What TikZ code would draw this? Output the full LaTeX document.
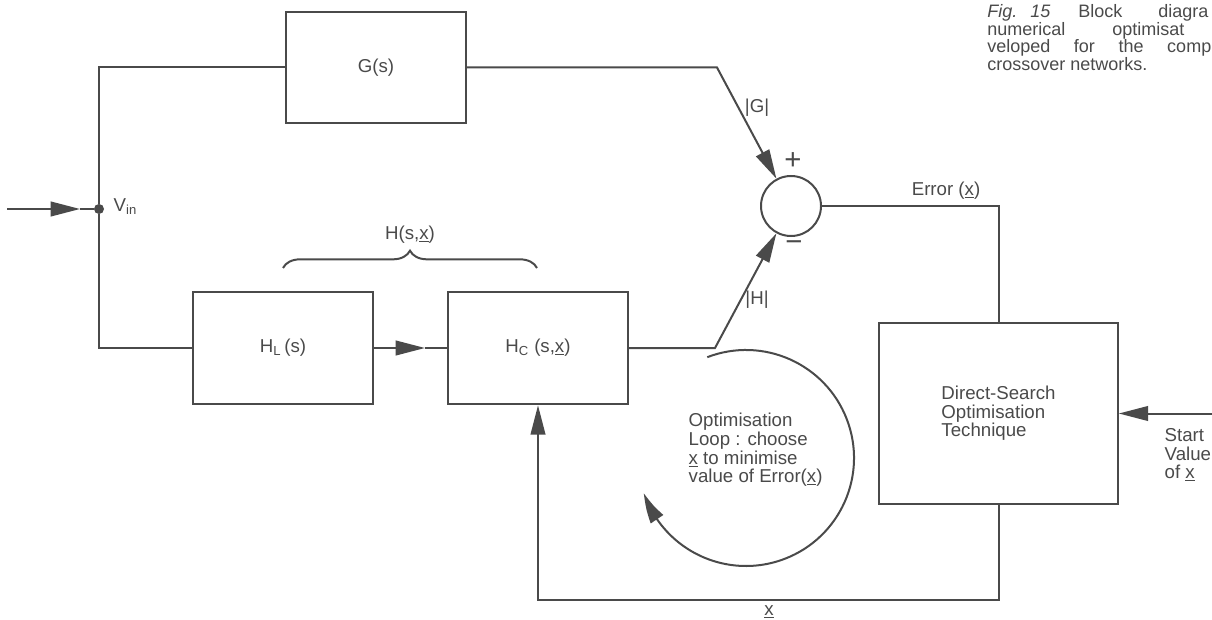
\documentclass[tikz,border=0pt]{standalone}
\usepackage{fontspec}
\setmainfont{Liberation Sans}
\usetikzlibrary{arrows.meta,bending,decorations.pathreplacing}
\definecolor{ink}{HTML}{4A4A4A}
\newcommand{\ux}{\underline{x}}
\begin{document}
\begin{tikzpicture}[x=0.75pt,y=-0.75pt,
  every node/.style={text=ink, font=\fontsize{14}{14}\selectfont},
  wire/.style={draw=ink, line width=1.5pt},
  tip/.style={-{Triangle[length=22pt,width=11pt]}},
  bendtip/.style={-{Triangle[length=22pt,width=11pt,bend]}},
  blockbox/.style={draw=ink, line width=1.5pt, minimum width=135pt, minimum height=84.5pt, inner sep=0pt},
  sign/.style={font=\fontsize{22}{22}\selectfont},
  caption/.style={anchor=base west, inner sep=0pt, font=\fontsize{13.5}{13.5}\selectfont}]
\useasboundingbox (0,0) rectangle (1212,620);

% blocks
\node[blockbox, minimum height=83pt] (G) at (376,67.5) {G(s)};
\node[blockbox] (HL) at (283,348) {H\textsubscript{L}\,(s)};
\node[blockbox] (HC) at (538,348) {H\textsubscript{C} (s,\ux)};
\node[draw=ink, line width=1.5pt, minimum width=179pt, minimum height=136pt, align=left] (DS) at (998.5,413.5) {Direct-Search\\Optimisation\\Technique};
\node[circle, draw=ink, line width=1.5pt, minimum size=45pt, inner sep=0pt] (S) at (791,206) {};
\node[circle, fill=ink, minimum size=7.5pt, inner sep=0pt] (J) at (99,209) {};

% coordinates
\coordinate (in) at (7,209);
\coordinate (inTip) at (80,209);
\coordinate (hTip) at (425,348);
\coordinate (gk) at (717,67.5);
\coordinate (hk) at (715,348);
\coordinate (xb) at (768,600);
\coordinate (st) at (1212,413.5);

% connectors
\draw[wire, tip] (in) -- (inTip);
\draw[wire] (inTip) -- (J);
\draw[wire] (J) |- (G.west);
\draw[wire] (J) |- (HL.west);
\draw[wire, tip] (HL.east) -- (hTip);
\draw[wire] (hTip) -- (HC.west);
\draw[wire, tip] (G.east) -- (gk) -- (S);
\draw[wire, tip] (HC.east) -- (hk) -- (S);
\draw[wire] (S.east) -| (DS.north);
\draw[wire, tip] (DS.south) |- (xb) -| (HC.south);
\draw[wire, tip] (st) -- (DS.east);

% optimisation loop
\draw[wire, bendtip] (746,458) ++(-111:108) arc[start angle=-111, end angle=161, radius=108];

% brace
\draw[wire, decorate, decoration={brace, amplitude=13pt}] (283,268) -- (537,268);

% labels
\node[anchor=west] (vin) at (109,207) {V\textsubscript{in}};
\node (lG) at (757,108) {|G|};
\node (lH) at (757,300) {|H|};
\node[sign] (plus) at (793,161) {+};
\node[sign] (minus) at (794,246) {−};
\node (err) at (946,191) {Error (\ux)};
\node (hsx) at (410,235) {H(s,\ux)};
\node (xlab) at (769,612) {\ux};
\node[anchor=west, align=left] (start) at (1160,455) {Start\\Value\\of \ux};
\node[anchor=west, align=left] (opt) at (684,450) {Optimisation\\Loop : choose\\\ux{} to minimise\\value of Error(\ux)};

% caption
\node[caption] (c1a) at (987,18) {\textit{Fig.}};
\node[caption] (c1b) at (1030,18) {\textit{15}};
\node[caption] (c1c) at (1078,18) {Block};
\node[caption] (c1d) at (1158,18) {diagra};
\node[caption] (c2a) at (987,35.5) {numerical};
\node[caption] (c2b) at (1112,35.5) {optimisat};
\node[caption] (c3) at (987,53) {\makebox[168pt][s]{veloped for the comp}};
\node[caption] (c4) at (987,70.5) {crossover networks.};
\end{tikzpicture}
\end{document}
